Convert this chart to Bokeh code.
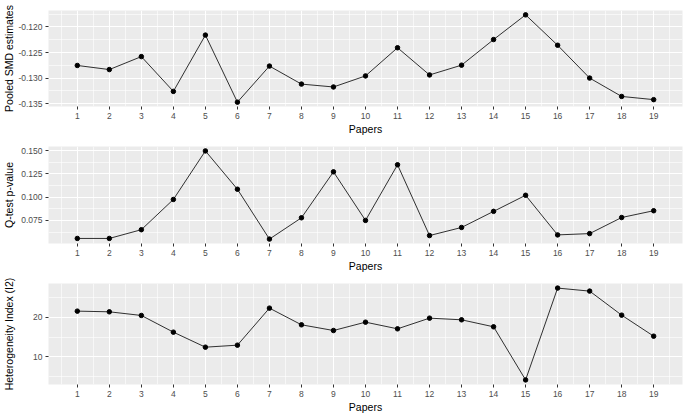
from bokeh.plotting import figure
from bokeh.layouts import column
from bokeh.models import Range1d, FixedTicker, PrintfTickFormatter
from bokeh.embed import file_html
from bokeh.resources import INLINE

# Leave-one-out results per paper
papers = list(range(1, 20))
pooled_smd = [-0.12753, -0.12833, -0.12580, -0.13259, -0.12160, -0.13469, -0.12765,
              -0.13117, -0.13173, -0.12957, -0.12407, -0.12938, -0.12747, -0.12247,
              -0.11765, -0.12358, -0.12999, -0.13358, -0.13420]
q_pvalue = [0.0556, 0.0556, 0.0650, 0.0975, 0.1497, 0.1085, 0.0549, 0.0778, 0.1272,
            0.0750, 0.1348, 0.0587, 0.0674, 0.0847, 0.1020, 0.0594, 0.0608, 0.0781,
            0.0854]
i2_index = [21.61, 21.44, 20.51, 16.27, 12.46, 12.97, 22.37, 18.14, 16.69, 18.81,
            17.12, 19.83, 19.41, 17.63, 4.15, 27.46, 26.69, 20.59, 15.25]

smd_ticks = [-0.135, -0.130, -0.125, -0.120]
smd_minor = [-0.1325, -0.1275, -0.1225, -0.1175]
p_ticks = [0.075, 0.100, 0.125, 0.150]
p_minor = [0.0625, 0.0875, 0.1125, 0.1375]
i2_ticks = [10, 20]
i2_minor = [5, 15, 25]

FONT = "Liberation Sans"


def expanded(vals, frac=0.05):
    lo, hi = min(vals), max(vals)
    pad = (hi - lo) * frac
    return lo - pad, hi + pad


def panel(values, ylabel, ticks, minor, fmt, height, top, bottom, label_standoff):
    xlo, xhi = expanded(papers)
    ylo, yhi = expanded(values)
    p = figure(width=685, height=height, output_backend="svg", toolbar_location=None,
               x_range=Range1d(xlo, xhi), y_range=Range1d(ylo, yhi),
               min_border_left=41, min_border_right=3,
               min_border_top=top, min_border_bottom=bottom)
    p.background_fill_color = "#EBEBEB"
    p.border_fill_color = "white"
    p.outline_line_color = None

    p.xaxis.ticker = FixedTicker(ticks=papers, minor_ticks=[i + 0.5 for i in range(0, 20)])
    p.yaxis.ticker = FixedTicker(ticks=ticks, minor_ticks=minor)
    p.yaxis.formatter = PrintfTickFormatter(format=fmt)

    for g in (p.xgrid, p.ygrid):
        g.grid_line_color = "white"
        g.grid_line_width = 1
        g.minor_grid_line_color = "white"
        g.minor_grid_line_width = 0.6

    for ax in (p.xaxis, p.yaxis):
        ax.axis_line_color = None
        ax.major_tick_line_color = "#333333"
        ax.major_tick_out = 3
        ax.major_tick_in = 0
        ax.minor_tick_line_color = None
        ax.major_label_text_color = "#4D4D4D"
        ax.major_label_text_font = FONT
        ax.major_label_text_font_size = "8.5px"
        ax.major_label_standoff = 2
        ax.axis_label_text_font = FONT
        ax.axis_label_text_font_size = "10.5px"
        ax.axis_label_text_font_style = "normal"
        ax.axis_label_text_color = "black"

    p.xaxis.axis_label = "Papers"
    p.xaxis.axis_label_standoff = 1
    p.yaxis.axis_label = ylabel
    p.yaxis.axis_label_standoff = label_standoff

    p.line(papers, values, line_color="#1a1a1a", line_width=0.9)
    p.scatter(papers, values, size=4.5, fill_color="black", line_color="black")
    return p


p1 = panel(pooled_smd, "Pooled SMD estimates", smd_ticks, smd_minor, "%.3f", 137, 10, 27, 0)
p2 = panel(q_pvalue, "Q-test p-value", p_ticks, p_minor, "%.3f", 137, 9, 27, 3)
p3 = panel(i2_index, "Heterogeneity Index (I2)", i2_ticks, i2_minor, "%d", 146, 9, 36, 15)

layout = column(p1, p2, p3, spacing=0)
open("out.html", "w").write(file_html(layout, INLINE))
